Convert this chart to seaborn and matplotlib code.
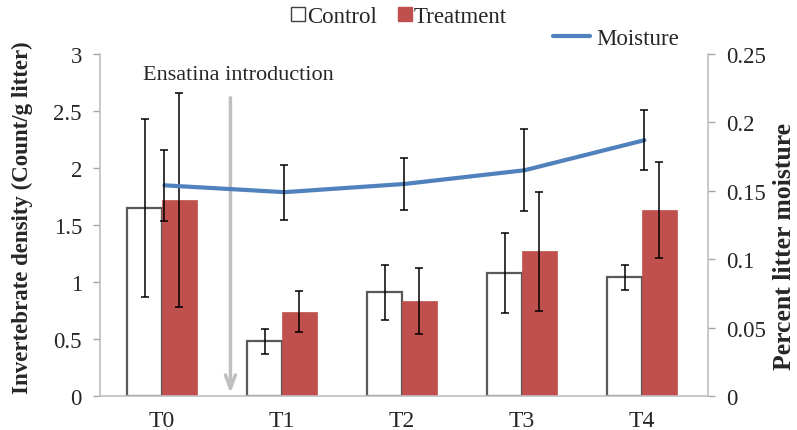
import numpy as np
import pandas as pd
import matplotlib
matplotlib.use("Agg")
import matplotlib.pyplot as plt
from matplotlib.lines import Line2D
import seaborn as sns

# Sampling periods
periods = ["T0", "T1", "T2", "T3", "T4"]

# Invertebrate density (Count/g litter), mean and error
control = [1.65, 0.48, 0.91, 1.08, 1.04]
control_err = [0.78, 0.11, 0.24, 0.35, 0.11]
treatment = [1.72, 0.74, 0.83, 1.27, 1.63]
treatment_err = [0.94, 0.18, 0.29, 0.52, 0.42]

# Percent litter moisture, mean and error
moisture = [0.154, 0.149, 0.155, 0.165, 0.187]
moisture_err = [0.026, 0.020, 0.019, 0.030, 0.022]

RED = "#C0504D"
BLUE = "#4F81BD"
GREY = "#A6A6A6"

sns.set_theme(style="white")
plt.rcParams["font.family"] = ["Liberation Serif", "DejaVu Serif"]

df = pd.DataFrame({
    "period": periods * 2,
    "density": control + treatment,
    "group": ["Control"] * 5 + ["Treatment"] * 5,
})

fig = plt.figure(figsize=(7.97, 4.31), dpi=100)
ax = fig.add_axes([100 / 797, 34 / 431, 608 / 797, 342 / 431])

sns.barplot(data=df, x="period", y="density", hue="group",
            palette={"Control": "white", "Treatment": RED}, saturation=1,
            width=0.58, errorbar=None, ax=ax, legend=False)

# Bar outlines and error bars
n = len(periods)
for i, bar in enumerate(ax.patches[:2 * n]):
    if i < n:
        bar.set_edgecolor("#595959")
        bar.set_linewidth(1.6)
    else:
        bar.set_edgecolor(RED)
        bar.set_linewidth(0.5)
bars_c = ax.patches[:n]
bars_t = ax.patches[n:2 * n]
xc = [b.get_x() + b.get_width() / 2 for b in bars_c]
xt = [b.get_x() + b.get_width() / 2 for b in bars_t]
eb = dict(fmt="none", ecolor="black", elinewidth=1.1, capsize=3,
          capthick=1.1, zorder=5)
ax.errorbar(xc, control, yerr=control_err, **eb)
ax.errorbar(xt, treatment, yerr=treatment_err, **eb)

ax.set_ylim(0, 3)
ax.set_yticks(np.arange(0, 3.01, 0.5))
ax.set_yticklabels(["0", "0.5", "1", "1.5", "2", "2.5", "3"])
ax.set_xlim(-0.517, 4.55)
ax.set_xlabel("")
ax.set_ylabel("Invertebrate density (Count/g litter)", fontsize=16.5,
              fontweight="bold")
ax.yaxis.set_label_coords(-0.11, 0.523)
ax.set_xticks(range(n))
ax.set_xticklabels(periods)
ax.tick_params(axis="x", length=0, labelsize=17, pad=10)
ax.tick_params(axis="y", length=5, width=1, color=GREY, labelsize=16.5,
               left=True, direction="out", pad=8)

for side in ["top", "right"]:
    ax.spines[side].set_visible(False)
for side in ["left", "bottom"]:
    ax.spines[side].set_color("#BFBFBF")
    ax.spines[side].set_linewidth(1.2)

# Introduction marker
ax.annotate("", xy=(0.57, 0.0), xytext=(0.57, 2.64),
            arrowprops=dict(arrowstyle="->,head_width=0.3,head_length=0.8",
                            color="#BFBFBF", lw=2.5), zorder=3)
ax.text(0.64, 2.82, "Ensatina introduction", ha="center", va="center",
        fontsize=16, color="#262626")

# Moisture on secondary axis
ax2 = ax.twinx()
mdf = pd.DataFrame({"pos": np.arange(n) + 0.02, "moisture": moisture})
sns.lineplot(data=mdf, x="pos", y="moisture", color=BLUE, lw=3, ax=ax2)
ax2.errorbar(mdf["pos"], moisture, yerr=moisture_err, **eb)
ax2.set_ylim(0, 0.25)
ax2.set_yticks(np.arange(0, 0.2501, 0.05))
ax2.set_yticklabels(["0", "0.05", "0.1", "0.15", "0.2", "0.25"])
ax2.set_xlim(-0.517, 4.55)
ax2.set_xlabel("")
ax2.set_ylabel("Percent litter moisture", fontsize=18.5, fontweight="bold")
ax2.yaxis.set_label_coords(1.107, 0.44)
ax2.tick_params(axis="y", length=5, width=1, color=GREY, labelsize=16.5,
                right=True, direction="out", pad=8)
for side in ["top", "left", "bottom"]:
    ax2.spines[side].set_visible(False)
ax2.spines["right"].set_color("#BFBFBF")
ax2.spines["right"].set_linewidth(1.2)

# Legends
bar_handles = [
    Line2D([], [], marker="s", ls="none", markersize=10,
           markerfacecolor="white", markeredgecolor="#404040"),
    Line2D([], [], marker="s", ls="none", markersize=10,
           markerfacecolor=RED, markeredgecolor=RED),
]
fig.legend(bar_handles, ["Control", "Treatment"], loc="center",
           bbox_to_anchor=(399 / 797, 1 - 17 / 431), ncol=2, frameon=False,
           fontsize=16.5, handlelength=0.6, handletextpad=0.1,
           columnspacing=0.9, borderpad=0)
fig.legend([Line2D([], [], color=BLUE, lw=3)], ["Moisture"], loc="center",
           bbox_to_anchor=(616 / 797, 1 - 39 / 431), frameon=False,
           fontsize=16.5, handlelength=1.6, handletextpad=0.3, borderpad=0)

fig.savefig("out.png", dpi=100)
